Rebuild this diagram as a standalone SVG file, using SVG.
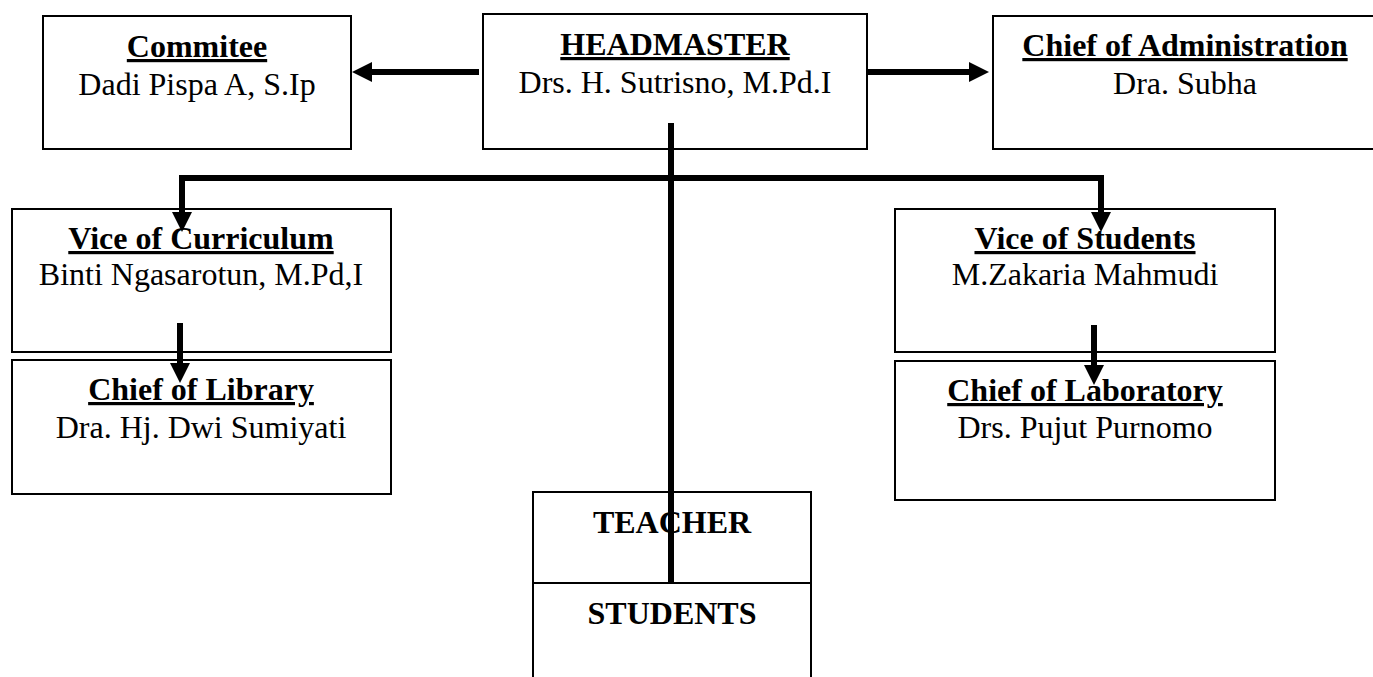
<svg xmlns="http://www.w3.org/2000/svg" width="1373" height="677" viewBox="0 0 1373 677">
<style>
.box{fill:#fff;stroke:#000;stroke-width:2}
.t{font-family:"Liberation Serif","Times New Roman",serif;font-size:32px;font-weight:bold;text-anchor:middle;text-decoration:underline;fill:#000}
.tb{font-family:"Liberation Serif","Times New Roman",serif;font-size:32px;font-weight:bold;text-anchor:middle;fill:#000}
.n{font-family:"Liberation Serif","Times New Roman",serif;font-size:32px;text-anchor:middle;fill:#000}
.c{fill:none;stroke:#000;stroke-width:6;stroke-linejoin:miter}
</style>
<defs>
<marker id="ah" markerUnits="userSpaceOnUse" viewBox="0 0 20 20" markerWidth="20" markerHeight="20" refX="1" refY="10" orient="auto-start-reverse">
<path d="M0,0 L20,10 L0,20 z" fill="#000"/>
</marker>
</defs>
<rect width="1373" height="677" fill="#fff"/>
<g id="committee">
<rect class="box" x="43" y="16" width="308" height="133"/>
<text class="t" x="197" y="57">Commitee</text>
<text class="n" x="197" y="95">Dadi Pispa A, S.Ip</text>
</g>
<g id="headmaster">
<rect class="box" x="483" y="14" width="384" height="135"/>
<text class="t" x="675" y="55">HEADMASTER</text>
<text class="n" x="675" y="93">Drs. H. Sutrisno, M.Pd.I</text>
</g>
<g id="administration">
<rect class="box" x="993" y="16" width="386" height="133"/>
<text class="t" x="1185" y="56">Chief of Administration</text>
<text class="n" x="1185" y="94">Dra. Subha</text>
</g>
<g id="curriculum">
<rect class="box" x="12" y="209" width="379" height="143"/>
<text class="t" x="201" y="249">Vice of Curriculum</text>
<text class="n" x="201" y="285">Binti Ngasarotun, M.Pd,I</text>
</g>
<g id="library">
<rect class="box" x="12" y="360" width="379" height="134"/>
<text class="t" x="201" y="400">Chief of Library</text>
<text class="n" x="201" y="438">Dra. Hj. Dwi Sumiyati</text>
</g>
<g id="students-vice">
<rect class="box" x="895" y="209" width="380" height="143"/>
<text class="t" x="1085" y="249">Vice of Students</text>
<text class="n" x="1085" y="285">M.Zakaria Mahmudi</text>
</g>
<g id="laboratory">
<rect class="box" x="895" y="361" width="380" height="139"/>
<text class="t" x="1085" y="401">Chief of Laboratory</text>
<text class="n" x="1085" y="438">Drs. Pujut Purnomo</text>
</g>
<g id="teacher">
<rect class="box" x="533" y="492" width="278" height="91"/>
<text class="tb" x="672" y="533">TEACHER</text>
</g>
<g id="students">
<rect class="box" x="533" y="583" width="278" height="100"/>
<text class="tb" x="672" y="624">STUDENTS</text>
</g>
<g id="connectors">
<path class="c" d="M479,72 H371" marker-end="url(#ah)"/>
<path class="c" d="M868,72 H970" marker-end="url(#ah)"/>
<path class="c" d="M182,213 V178 H1101 V213" marker-start="url(#ah)" marker-end="url(#ah)"/>
<path class="c" d="M671,123 V583"/>
<path class="c" d="M180,323 V364" marker-end="url(#ah)"/>
<path class="c" d="M1094,325 V366" marker-end="url(#ah)"/>
</g>
</svg>
